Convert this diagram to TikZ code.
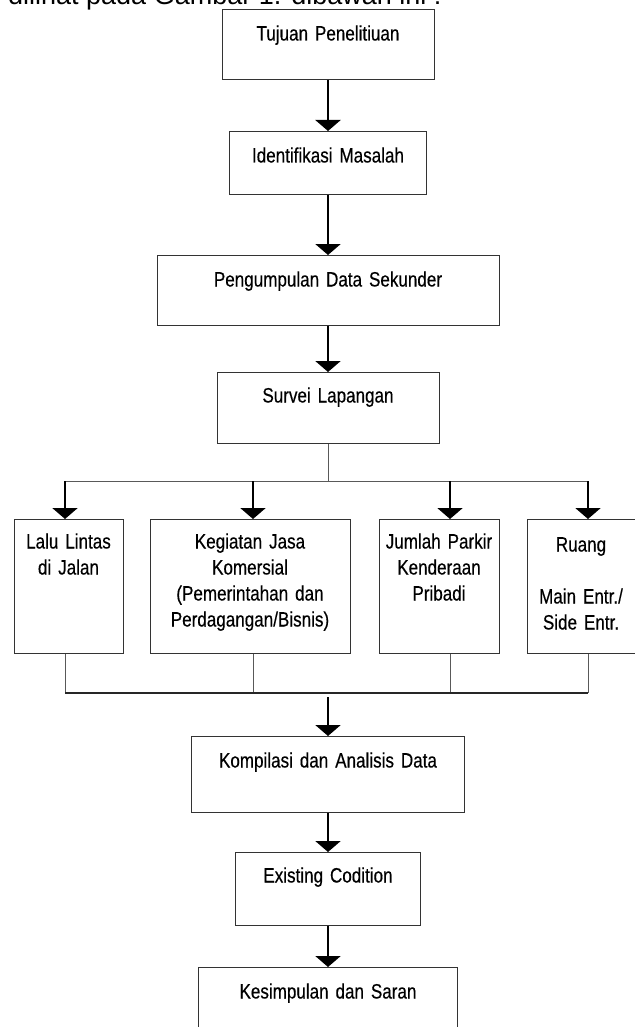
\documentclass[tikz,border=0pt]{standalone}
\usepackage{fontspec}
\setmainfont{Liberation Sans}
\newfontfamily\sempit[FakeStretch=0.82,FakeBold=0.4]{Liberation Sans}
\usetikzlibrary{arrows.meta}
\tikzset{
  kotak/.style={draw=black!80, line width=1pt, inner xsep=0pt, inner ysep=0pt, anchor=north, align=center, font=\sempit\fontsize{20.8}{26}\selectfont},
  panah/.style={line width=2.4pt, draw=black, -{Triangle[width=25pt,length=11pt]}},
  garis/.style={line width=1pt, draw=black!65},
  garisbawah/.style={line width=1.4pt, draw=black!85},
}

\begin{document}
\begin{tikzpicture}[x=1pt,y=-1pt]
\useasboundingbox (0,0) rectangle (634,1027);
\node[anchor=base west, inner sep=0pt, font=\fontsize{27}{32}\selectfont] (pengantar) at (8,5) {dilihat pada Gambar 1. dibawah ini :};

\node[kotak, text width=212pt, text height=31pt, text depth=39pt] (tujuan) at (328,9) {Tujuan Penelitiuan};
\node[kotak, text width=197pt, text height=31pt, text depth=32pt] (identifikasi) at (328,131) {Identifikasi Masalah};
\node[kotak, text width=342pt, text height=31pt, text depth=39pt] (pengumpulan) at (328,255) {Pengumpulan Data Sekunder};
\node[kotak, text width=222pt, text height=30pt, text depth=41pt] (survei) at (328,372) {Survei Lapangan};

\node[kotak, text width=109pt, text height=29pt, text depth=105pt] (lalu) at (68.5,519) {Lalu Lintas\\di Jalan};
\node[kotak, text width=200pt, text height=29pt, text depth=105pt] (kegiatan) at (250,519) {Kegiatan Jasa\\Komersial\\(Pemerintahan dan\\Perdagangan/Bisnis)};
\node[kotak, text width=120pt, text height=29pt, text depth=105pt] (parkir) at (439,519) {Jumlah Parkir\\Kenderaan\\Pribadi};
\node[kotak, text width=108pt, text height=32pt, text depth=102pt] (ruang) at (581,519) {Ruang\\[26pt]Main Entr./\\Side Entr.};

\node[kotak, text width=273pt, text height=31pt, text depth=45pt] (kompilasi) at (328,736) {Kompilasi dan Analisis Data};
\node[kotak, text width=185pt, text height=30pt, text depth=43pt] (existing) at (328,852) {Existing Codition};
\node[kotak, text width=259pt, text height=31pt, text depth=49pt] (kesimpulan) at (328,967) {Kesimpulan dan Saran};

\coordinate (cabang) at (328,481);
\coordinate (ka1) at (65,481);
\coordinate (ka2) at (253,481);
\coordinate (ka3) at (450,481);
\coordinate (ka4) at (588,481);
\coordinate (kb1) at (65,693);
\coordinate (kb2) at (253,693);
\coordinate (kb3) at (450,693);
\coordinate (kb4) at (588,693);
\coordinate (gabung) at (328,697);

\draw[panah] (tujuan) -- (identifikasi);
\draw[panah] (identifikasi) -- (pengumpulan);
\draw[panah] (pengumpulan) -- (survei);

\draw[garis] (survei.south) -- (cabang);
\draw[garis] (ka1) -- (ka4);
\draw[panah] (ka1) -- (ka1 |- lalu.north);
\draw[panah] (ka2) -- (ka2 |- kegiatan.north);
\draw[panah] (ka3) -- (ka3 |- parkir.north);
\draw[panah] (ka4) -- (ka4 |- ruang.north);

\draw[garis] (kb1 |- lalu.south) -- (kb1);
\draw[garis] (kb2 |- kegiatan.south) -- (kb2);
\draw[garis] (kb3 |- parkir.south) -- (kb3);
\draw[garis] (kb4 |- ruang.south) -- (kb4);
\draw[garisbawah] (kb1) -- (kb4);
\draw[panah] (gabung) -- (kompilasi.north);

\draw[panah] (kompilasi) -- (existing);
\draw[panah] (existing) -- (kesimpulan);
\end{tikzpicture}
\end{document}
